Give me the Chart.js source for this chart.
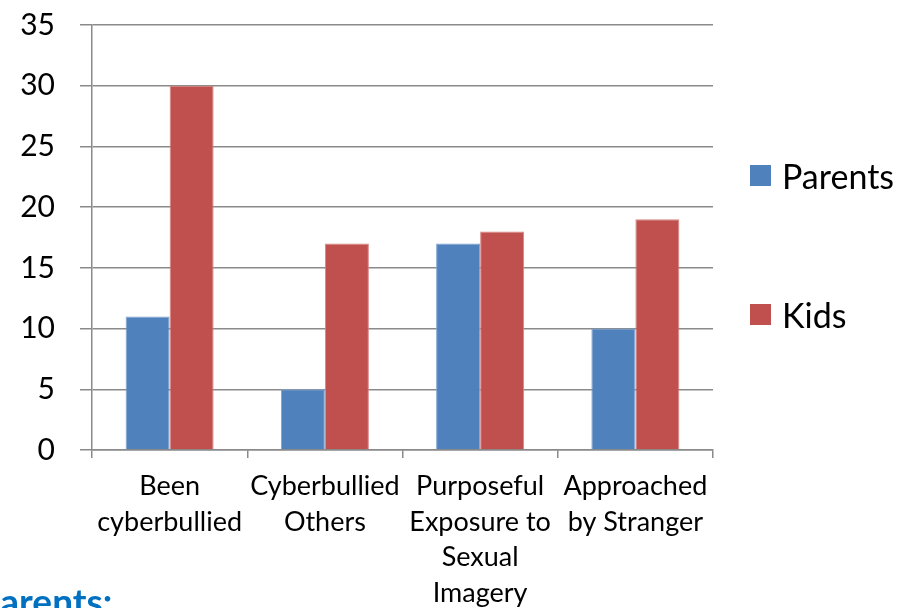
<!DOCTYPE html>
<html>
<head>
<meta charset="utf-8">
<script src="https://cdn.jsdelivr.net/npm/chart.js@4"></script>
<style>
  html, body { margin: 0; padding: 0; background: #fff; overflow: hidden; }
  #wrap { position: relative; width: 906px; height: 608px; overflow: hidden; }
  #legend { position: absolute; left: 750px; top: 0; font-family: Lato, sans-serif; font-size: 34px; color: #000; }
  .item { position: absolute; left: 0; white-space: nowrap; display: flex; align-items: center; height: 40px; }
  .box { width: 21px; height: 21px; margin-right: 11px; }
  #note { position: absolute; left: -22px; top: 581px; font-family: Lato, sans-serif; font-weight: bold; font-size: 37px; color: #0070c0; line-height: 40px; }
</style>
</head>
<body>
<div id="wrap">
  <canvas id="chart" width="906" height="608"></canvas>
  <div id="legend"></div>
  <div id="note">Parents:</div>
</div>
<script>
const categories = [
  ["Been", "cyberbullied"],
  ["Cyberbullied", "Others"],
  ["Purposeful", "Exposure to", "Sexual", "Imagery"],
  ["Approached", "by Stranger"],
];
const parents = [11, 5, 17, 10];
const kids = [30, 17, 18, 19];
const seriesNames = ["Parents", "Kids"];
const seriesColors = ["#4f81bd", "#c0504d"];
const borderColors = ["#7ea2cf", "#d88582"];

const gridColor = "#8a8a8a";

const chart = new Chart(document.getElementById("chart"), {
  type: "bar",
  data: {
    labels: categories,
    datasets: [parents, kids].map((values, i) => ({
      label: seriesNames[i],
      data: values,
      backgroundColor: seriesColors[i],
      borderColor: borderColors[i],
      borderWidth: 1,
      categoryPercentage: 0.567,
      barPercentage: 1,
    })),
  },
  options: {
    responsive: false,
    animation: false,
    layout: {
      padding: { top: 25, right: 193, bottom: 0, left: 0 },
    },
    plugins: {
      legend: { display: false },
      tooltip: { enabled: false },
    },
    scales: {
      x: {
        grid: {
          offset: true,
          drawOnChartArea: false,
          drawTicks: true,
          tickLength: 8,
          color: gridColor,
          lineWidth: 1.5,
        },
        border: { display: true, color: gridColor, width: 1.5 },
        ticks: {
          autoSkip: false,
          maxRotation: 0,
          padding: 10,
          color: "#000",
          font: { family: "Lato", size: 27, lineHeight: 1.33 },
        },
        afterFit: (scale) => {
          scale.height = 158;
        },
      },
      y: {
        min: 0,
        max: 35,
        ticks: {
          stepSize: 5,
          padding: 25,
          color: "#000",
          font: { family: "Lato", size: 30 },
        },
        grid: {
          color: gridColor,
          lineWidth: 1.5,
          tickLength: 12,
        },
        border: { display: true, color: gridColor, width: 1.5 },
        afterFit: (scale) => {
          scale.width = 92;
          // top label may stick out, the layout padding is enough
          scale.paddingTop = 0;
          scale.paddingBottom = 0;
        },
      },
    },
  },
});

// legend built from the datasets
const legendTops = [155, 294];
const legend = document.getElementById("legend");
chart.data.datasets.forEach((ds, i) => {
  const item = document.createElement("div");
  item.className = "item";
  item.style.top = legendTops[i] + "px";
  const box = document.createElement("span");
  box.className = "box";
  box.style.background = ds.backgroundColor;
  const text = document.createElement("span");
  text.textContent = ds.label;
  item.appendChild(box);
  item.appendChild(text);
  legend.appendChild(item);
});
</script>
</body>
</html>
